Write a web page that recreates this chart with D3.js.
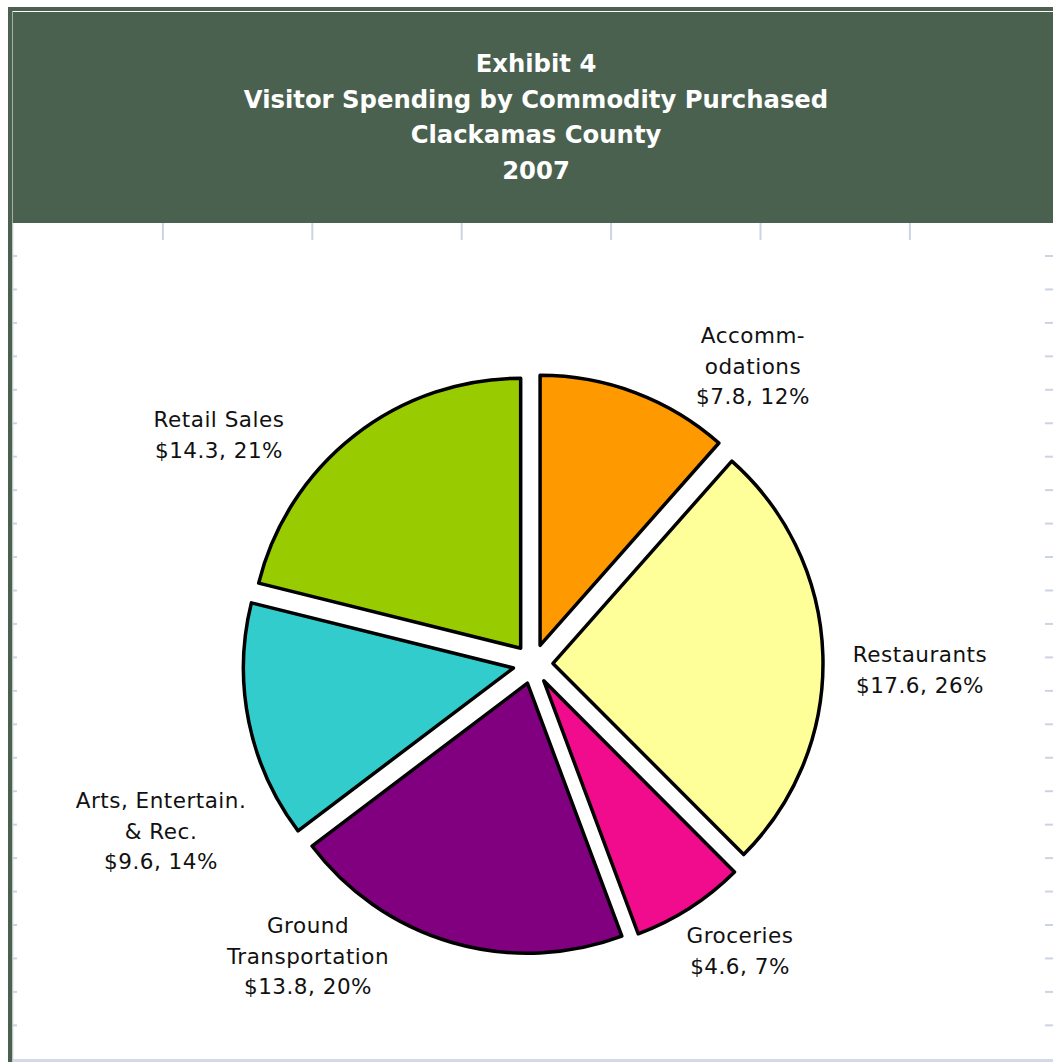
<!DOCTYPE html>
<html>
<head>
<meta charset="utf-8">
<script src="https://cdn.jsdelivr.net/npm/d3@7"></script>
<style>
  html, body { margin: 0; padding: 0; background: #ffffff; }
  svg { display: block; }
</style>
</head>
<body>
<svg id="chart" width="1053" height="1062"></svg>
<script>
// Visitor spending by commodity purchased, Clackamas County, 2007 ($ millions)
const categories = [
  "Accommodations",
  "Restaurants",
  "Groceries",
  "Ground Transportation",
  "Arts, Entertain. & Rec.",
  "Retail Sales"
];
const spending = [7.8, 17.6, 4.6, 13.8, 9.6, 14.3];
const shares = [12, 26, 7, 20, 14, 21];
const labelLines = [
  ["Accomm-", "odations"],
  ["Restaurants"],
  ["Groceries"],
  ["Ground", "Transportation"],
  ["Arts, Entertain.", "& Rec."],
  ["Retail Sales"]
];
const sliceColors = ["#ff9900", "#ffff99", "#f00c8c", "#800080", "#33cccc", "#99cc00"];
const titleLines = [
  "Exhibit 4",
  "Visitor Spending by Commodity Purchased",
  "Clackamas County",
  "2007"
];

const W = 1053, H = 1062;
const svg = d3.select("#chart");
const headerFill = "#4b6150";
const tickColor = "#ccd3e2";
const font = "'DejaVu Sans', 'Liberation Sans', sans-serif";

// Outer frame and header band
svg.append("rect").attr("x", 0).attr("y", 0).attr("width", W).attr("height", H).attr("fill", "#ffffff");
svg.append("rect").attr("x", 8).attr("y", 7).attr("width", W - 8).attr("height", 4).attr("fill", headerFill);
svg.append("rect").attr("x", 8).attr("y", 7).attr("width", 4.5).attr("height", H - 7).attr("fill", headerFill);
svg.append("rect").attr("x", 13).attr("y", 12).attr("width", W - 13).attr("height", 211).attr("fill", headerFill);
svg.append("line").attr("x1", 13).attr("x2", 13).attr("y1", 223).attr("y2", H)
  .attr("stroke", "#dde2ec").attr("stroke-width", 1);
svg.append("rect").attr("x", 13).attr("y", 1059).attr("width", W - 13).attr("height", 3).attr("fill", "#d3d9e6");

// Frame tick marks
const topTicks = d3.range(1, 7).map(i => 13.5 + i * 149.4);
svg.append("g").selectAll("line").data(topTicks).join("line")
  .attr("x1", d => d).attr("x2", d => d).attr("y1", 223).attr("y2", 240)
  .attr("stroke", tickColor).attr("stroke-width", 2);
const sideTicks = d3.range(0, 24).map(i => 256 + i * 33.45).filter(y => y < 1050);
svg.append("g").selectAll("line").data(sideTicks).join("line")
  .attr("x1", 13).attr("x2", 17).attr("y1", d => d).attr("y2", d => d)
  .attr("stroke", tickColor).attr("stroke-width", 2);
svg.append("g").selectAll("line").data(sideTicks).join("line")
  .attr("x1", 1045).attr("x2", W).attr("y1", d => d).attr("y2", d => d)
  .attr("stroke", tickColor).attr("stroke-width", 2);

// Title
svg.append("g").selectAll("text").data(titleLines).join("text")
  .attr("x", 536).attr("y", (d, i) => 72 + i * 35.5)
  .attr("text-anchor", "middle")
  .attr("font-family", font).attr("font-weight", "bold").attr("font-size", 24.3)
  .attr("fill", "#ffffff")
  .text(d => d);

// Exploded pie
const cx = 533, cy = 664, R = 270, explode = 20;
const data = categories.map((c, i) => ({ name: c, value: spending[i], share: shares[i], color: sliceColors[i], lines: labelLines[i] }));
const pie = d3.pie().value(d => d.value).sort(null).startAngle(0).endAngle(2 * Math.PI);
const arc = d3.arc().innerRadius(0).outerRadius(R);
const arcs = pie(data);

const pieG = svg.append("g").attr("transform", `translate(${cx},${cy})`);
pieG.selectAll("path").data(arcs).join("path")
  .attr("transform", d => {
    const a = (d.startAngle + d.endAngle) / 2;
    return `translate(${explode * Math.sin(a)},${-explode * Math.cos(a)})`;
  })
  .attr("d", arc)
  .attr("fill", d => d.data.color)
  .attr("stroke", "#000000")
  .attr("stroke-width", 3.5)
  .attr("stroke-linejoin", "round");

// Data labels: category name, dollar value and share
const labelPos = {
  "Accommodations": [753, 343],
  "Restaurants": [920, 662],
  "Groceries": [740, 943],
  "Ground Transportation": [308, 933],
  "Arts, Entertain. & Rec.": [161, 808],
  "Retail Sales": [219, 427]
};
const lineGap = 30.5;
const labelG = svg.append("g");
arcs.forEach(d => {
  const [lx, ly] = labelPos[d.data.name];
  const lines = d.data.lines.concat([`$${d.data.value.toFixed(1)}, ${d.data.share}%`]);
  labelG.append("g").selectAll("text").data(lines).join("text")
    .attr("x", lx).attr("y", (t, i) => ly + i * lineGap)
    .attr("text-anchor", "middle")
    .attr("font-family", font).attr("font-size", 21.5)
    .attr("letter-spacing", 0.5)
    .attr("fill", "#111111")
    .text(t => t);
});
</script>
</body>
</html>
